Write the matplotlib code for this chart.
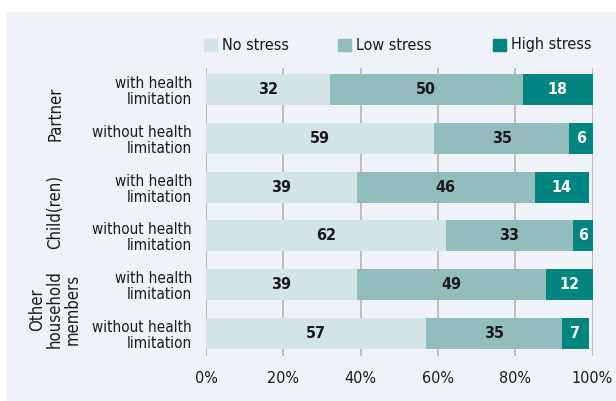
import numpy as np
import matplotlib.pyplot as plt
from matplotlib.patches import Rectangle

# stress levels per household member group (percent)
categories = ["with health\nlimitation", "without health\nlimitation"] * 3
groups = ["Partner", "Child(ren)", "Other\nhousehold\nmembers"]
no_stress = [32, 59, 39, 62, 39, 57]
low_stress = [50, 35, 46, 33, 49, 35]
high_stress = [18, 6, 14, 6, 12, 7]
series_names = ["No stress", "Low stress", "High stress"]
tick_values = [0, 20, 40, 60, 80, 100]

colors = ["#d3e4e4", "#93bdbc", "#00857f"]
label_colors = ["#1a1a1a", "#1a1a1a", "white"]
bg = "#eff2f7"
text_col = "#1a1a1a"
plt.rcParams["font.family"] = ["DejaVu Sans"]
plt.rcParams["font.stretch"] = "condensed"

W, H = 616, 401
fig = plt.figure(figsize=(W / 100, H / 100), dpi=100)
fig.patch.set_facecolor("white")
fig.patches.append(Rectangle((7 / W, 0), 1 - 7 / W, (H - 12) / H,
                             transform=fig.transFigure, color=bg, zorder=-5))

x0, x1, ytop, ybot = 206, 592.5, 68, 356
ax = fig.add_axes([x0 / W, (H - ybot) / H, (x1 - x0) / W, (ybot - ytop) / H])
ax.patch.set_alpha(0)

y = np.arange(len(categories))
left = np.zeros(len(categories))
for name, vals, c, lc in zip(series_names, [no_stress, low_stress, high_stress],
                             colors, label_colors):
    bars = ax.barh(y, vals, left=left, height=0.635, color=c, zorder=2)
    ax.bar_label(bars, label_type="center", color=lc, fontsize=11.5,
                 fontweight="semibold", zorder=3)
    left += np.array(vals)

ax.set_xlim(0, 100)
ax.set_ylim(5.46, -0.44)
ax.set_xticks(tick_values)
ax.set_xticklabels([f"{v}%" for v in tick_values])
ax.tick_params(axis="x", length=0, pad=11, labelsize=11.5, colors=text_col)
ax.set_yticks(y)
ax.set_yticklabels(categories, fontsize=11, color=text_col, linespacing=1.08)
ax.tick_params(axis="y", length=0, pad=10)
ax.grid(axis="x", color="#b8b8b8", linewidth=1.3, zorder=1)
ax.axvline(0, color="#b8b8b8", linewidth=1.3, zorder=1)
for s in ax.spines.values():
    s.set_visible(False)

# rotated group labels, one per pair of rows
for i, g in enumerate(groups):
    yc = ax.transData.transform((0, 2 * i + 0.5))[1]
    fig.text(55 / W, yc / fig.dpi / fig.get_figheight(), g, rotation=90,
             ha="center", va="center", fontsize=12, color=text_col,
             linespacing=1.0)

# legend row
leg_x = [204, 338, 493]
for name, c, lx in zip(series_names, colors, leg_x):
    fig.patches.append(Rectangle((lx / W, (H - 51) / H), 12.5 / W, 12.5 / H,
                                 transform=fig.transFigure, color=c, zorder=2))
    fig.text((lx + 18) / W, (H - 45) / H, name, ha="left", va="center",
             fontsize=11.5, color=text_col)

fig.savefig("out.png", dpi=100)
